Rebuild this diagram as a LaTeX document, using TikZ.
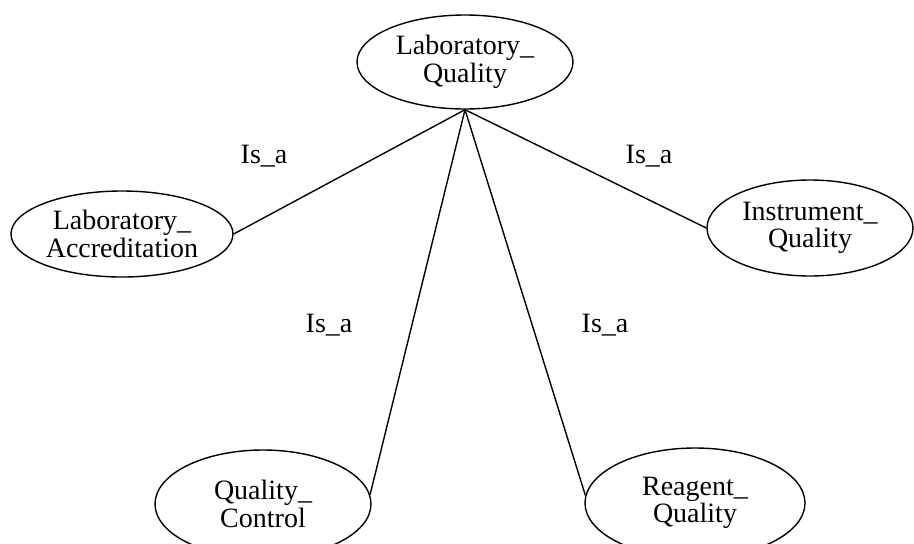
\documentclass[tikz,border=0pt]{standalone}
\usepackage{fontspec}
\setmainfont{Liberation Serif}
\usetikzlibrary{shapes.geometric}
\tikzset{
  concept/.style={draw, line width=1.4pt, ellipse, inner sep=0pt,
    align=center, font=\fontsize{28}{27.5}\selectfont},
  relation/.style={line width=1.4pt},
  rellabel/.style={anchor=base, inner sep=0pt, font=\fontsize{28}{28}\selectfont}
}
\begin{document}
\begin{tikzpicture}[x=1pt, y=-1pt]
  \useasboundingbox (0,0) rectangle (914,544);
  % concepts
  \node[concept, minimum width=216pt, minimum height=94pt] (lq) at (465,62) {Laboratory\_\\Quality};
  \node[concept, minimum width=222pt, minimum height=86pt] (la) at (122,234) {Laboratory\_\\Accreditation};
  \node[concept, minimum width=206pt, minimum height=96pt] (iq) at (810,228) {Instrument\_\\Quality};
  \node[concept, minimum width=216pt, minimum height=108pt] (qc) at (263,504) {Quality\_\\Control};
  \node[concept, minimum width=220pt, minimum height=110pt] (rq) at (695,503) {Reagent\_\\Quality};
  % is-a relations
  \draw[relation] (lq.south) -- (la.east);
  \draw[relation] (lq.south) -- (iq.west);
  \draw[relation] (lq.south) -- (qc.5);
  \draw[relation] (lq.south) -- (rq.176);
  % relation labels
  \node[rellabel] (l1) at (264,163) {Is\_a};
  \node[rellabel] (l2) at (649,163) {Is\_a};
  \node[rellabel] (l3) at (329,332) {Is\_a};
  \node[rellabel] (l4) at (605,332) {Is\_a};
\end{tikzpicture}
\end{document}
